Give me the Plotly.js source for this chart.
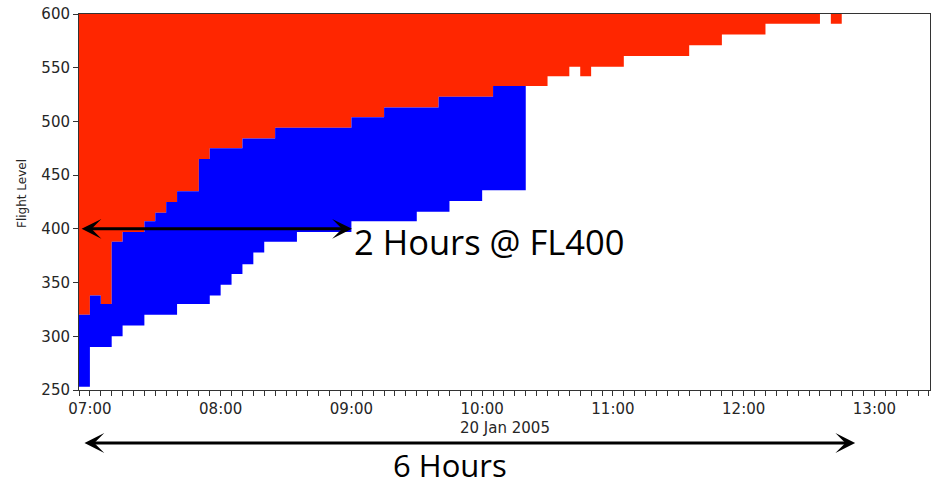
<!DOCTYPE html>
<html>
<head>
<meta charset="utf-8">
<script src="https://cdn.plot.ly/plotly-3.0.1.min.js"></script>
<style>html,body{margin:0;padding:0;background:#fff;}#chart{width:941px;height:489px;}</style>
</head>
<body>
<div id="chart"></div>
<script>
// 5-minute time bins (start of each bin), 20 Jan 2005
const day = '2005-01-20 ';
const binTimes = [
  '06:55','07:00','07:05','07:10','07:15','07:20','07:25','07:30','07:35','07:40',
  '07:45','07:50','07:55','08:00','08:05','08:10','08:15','08:20','08:25','08:30',
  '08:35','08:40','08:45','08:50','08:55','09:00','09:05','09:10','09:15','09:20',
  '09:25','09:30','09:35','09:40','09:45','09:50','09:55','10:00','10:05','10:10',
  '10:15','10:20','10:25','10:30','10:35','10:40','10:45','10:50','10:55','11:00',
  '11:05','11:10','11:15','11:20','11:25','11:30','11:35','11:40','11:45','11:50',
  '11:55','12:00','12:05','12:10','12:15','12:20','12:25','12:30','12:35','12:40'
];
// Red region: from this flight level up to the top level
const redLow = [
  320,338,330,388,397,397,407,415,425,435,
  435,465,475,475,475,484,484,484,494,494,
  494,494,494,494,494,504,504,504,513,513,
  513,513,513,523,523,523,523,523,533,533,
  533,533,533,542,542,551,542,551,551,551,
  561,561,561,561,561,561,571,571,571,581,
  581,581,581,591,591,591,591,591,null,591
];
const redTop = 600;
// Blue region: lower and upper flight level per bin
const blueLow = [
  253,290,290,300,310,310,320,320,320,330,
  330,330,338,348,358,367,378,388,388,388,
  397,397,397,397,397,407,407,407,407,407,
  407,416,416,416,426,426,426,436,436,436,
  436
];
const blueTop = [
  320,338,330,388,397,397,407,415,425,435,
  435,465,475,475,475,484,484,484,494,494,
  494,494,494,494,494,504,504,504,513,513,
  513,513,513,523,523,523,523,523,533,533,
  533
];
const yTicks = [250,300,350,400,450,500,550,600];

const binMs = 5*60*1000;
const t0 = binTimes.map(t => new Date(day.replace(' ', 'T') + t + ':00Z').getTime());
const fmt = ms => new Date(ms).toISOString().replace('T', ' ').slice(0, 19);

// Build step-shaped filled polygons for contiguous runs of bins
function stepRegions(lows, highs) {
  const xs = [], ys = [];
  let i = 0;
  const n = lows.length;
  while (i < n) {
    if (lows[i] === null || highs[i] === null) { i++; continue; }
    let j = i;
    while (j + 1 < n && lows[j + 1] !== null && highs[j + 1] !== null) j++;
    for (let k = i; k <= j; k++) {
      xs.push(fmt(t0[k])); ys.push(lows[k]);
      xs.push(fmt(t0[k] + binMs)); ys.push(lows[k]);
    }
    for (let k = j; k >= i; k--) {
      xs.push(fmt(t0[k] + binMs)); ys.push(highs[k]);
      xs.push(fmt(t0[k])); ys.push(highs[k]);
    }
    xs.push(fmt(t0[i])); ys.push(lows[i]);
    xs.push(null); ys.push(null);
    i = j + 1;
  }
  return {xs, ys};
}

const RED = 'rgb(255,38,0)';
const BLUE = 'rgb(0,0,255)';

const redPoly = stepRegions(redLow, redLow.map(v => v === null ? null : redTop));
const bluePoly = stepRegions(blueLow, blueTop);

const red = {
  type: 'scatter', mode: 'lines', x: redPoly.xs, y: redPoly.ys,
  fill: 'toself', fillcolor: RED, line: {width: 0, color: RED}, connectgaps: false, hoverinfo: 'skip'
};
const blue = {
  type: 'scatter', mode: 'lines', x: bluePoly.xs, y: bluePoly.ys,
  fill: 'toself', fillcolor: BLUE, line: {width: 0, color: BLUE}, connectgaps: false, hoverinfo: 'skip'
};

const tickFont = {family: 'DejaVu Sans', size: 15, color: '#262626'};
const W = 941, H = 489, mL = 79, mR = 11, mT = 14, mB = 99;
const pw = W - mL - mR, ph = H - mT - mB;
const px = x => (x - mL) / pw;
const py = y => (H - mB - y) / ph;

const layout = {
  width: W, height: H,
  margin: {l: mL, r: mR, t: mT, b: mB, pad: 0},
  paper_bgcolor: '#fff', plot_bgcolor: '#fff',
  showlegend: false,
  xaxis: {
    type: 'date',
    range: [day + '06:55', day + '13:25:30'],
    tick0: day + '07:00', dtick: 3600000, tickformat: '%H:%M',
    ticks: 'outside', ticklen: 5, tickwidth: 1, tickcolor: '#333',
    minor: {tick0: day + '06:55', dtick: binMs, ticks: 'outside', ticklen: 5, tickwidth: 1, tickcolor: '#333', showgrid: false},
    tickfont: tickFont,
    showgrid: false, zeroline: false,
    showline: true, mirror: true, linecolor: '#333', linewidth: 1
  },
  yaxis: {
    range: [250, 600],
    tickvals: yTicks,
    ticks: 'outside', ticklen: 5, tickwidth: 1, tickcolor: '#333',
    tickfont: tickFont,
    showgrid: false, zeroline: false,
    showline: true, mirror: true, linecolor: '#333', linewidth: 1
  },
  annotations: [
    {xref: 'paper', yref: 'paper', x: 0.5, y: py(428), xanchor: 'center', yanchor: 'middle',
     text: '20 Jan 2005', showarrow: false, font: {family: 'DejaVu Sans', size: 15, color: '#262626'}},
    {xref: 'paper', yref: 'paper', x: px(22), y: py(194), xanchor: 'center', yanchor: 'middle',
     text: 'Flight Level', textangle: -90, showarrow: false, font: {family: 'DejaVu Sans', size: 12, color: '#262626'}},
    // 2 hours arrow at FL400
    {xref: 'x', yref: 'y', x: day + '09:00:15', y: 400, axref: 'x', ayref: 'y', ax: day + '06:55:30', ay: 400,
     text: '', showarrow: true, arrowside: 'end+start', arrowhead: 3, startarrowhead: 3,
     arrowsize: 1.1, startarrowsize: 1.1, arrowwidth: 3, arrowcolor: '#000', standoff: 0, startstandoff: 0},
    {xref: 'paper', yref: 'paper', x: px(352), y: py(241), xanchor: 'left', yanchor: 'middle',
     text: '2 Hours @ FL400', showarrow: false, font: {family: 'Open Sans', size: 34.5, color: '#000'}},
    // 6 hours arrow
    {xref: 'x', yref: 'paper', x: day + '12:51:10', y: py(443), axref: 'x', ayref: 'pixel', ax: day + '06:56:50', ay: 0,
     text: '', showarrow: true, arrowside: 'end+start', arrowhead: 3, startarrowhead: 3,
     arrowsize: 1.1, startarrowsize: 1.1, arrowwidth: 3, arrowcolor: '#000', standoff: 0, startstandoff: 0},
    {xref: 'paper', yref: 'paper', x: px(449.5), y: py(465), xanchor: 'center', yanchor: 'middle',
     text: '6 Hours', showarrow: false, font: {family: 'Open Sans', size: 31, color: '#000'}}
  ]
};

Plotly.newPlot('chart', [red, blue], layout, {staticPlot: true, displayModeBar: false});
</script>
</body>
</html>
